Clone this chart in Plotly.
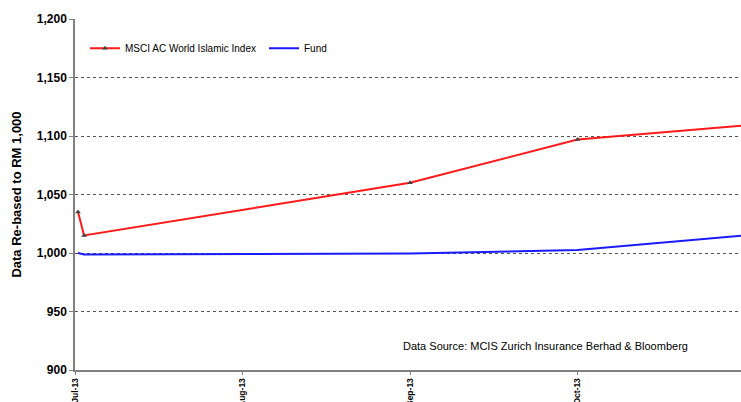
import plotly.graph_objects as go

# x positions in months since Jul-13 (0 = Jul-13, 1 = Aug-13, ...)
months = [0.018, 0.054, 2.0, 3.0, 4.0]
msci = [1035, 1015, 1060, 1097, 1109]
fund = [1000, 998.8, 999.5, 1002.5, 1015]
tick_pos = [0, 1, 2, 3, 4]
tick_labels = ["Jul-13", "Aug-13", "Sep-13", "Oct-13", "Nov-13"]
y_ticks = [900, 950, 1000, 1050, 1100, 1150, 1200]

FONT = "Liberation Sans, Arial, sans-serif"

fig = go.Figure()
fig.add_trace(go.Scatter(
    x=months, y=msci, name="MSCI AC World Islamic Index", mode="lines+markers",
    line=dict(color="#ff1a1a", width=2),
    marker=dict(symbol="triangle-up", size=5, color="#444444"),
))
fig.add_trace(go.Scatter(
    x=months, y=fund, name="Fund", mode="lines",
    line=dict(color="#1a1aff", width=2),
))

fig.update_layout(
    width=741, height=402,
    margin=dict(l=75, r=0, t=19, b=32),
    paper_bgcolor="white", plot_bgcolor="white",
    font=dict(family=FONT, color="black"),
    showlegend=True,
    legend=dict(orientation="h", x=0.015, y=0.917, xanchor="left", yanchor="middle",
                font=dict(size=10), bgcolor="rgba(0,0,0,0)",
                entrywidth=134, entrywidthmode="pixels", itemwidth=30,
                tracegroupgap=0),
    xaxis=dict(
        range=[0, 3.976], automargin=False,
        tickvals=tick_pos, ticktext=tick_labels, tickangle=-90,
        tickfont=dict(size=8.5, family=FONT, weight="bold"),
        showgrid=False, showline=True, linecolor="#808080", linewidth=1.5,
        ticks="outside", ticklen=3, tickcolor="#808080", zeroline=False,
    ),
    yaxis=dict(
        range=[900, 1200], tickvals=y_ticks, automargin=False,
        tickformat=",d",
        tickfont=dict(size=12, weight="bold"),
        title=dict(text="Data Re-based to RM 1,000", font=dict(size=13, weight="bold"), standoff=12),
        showgrid=True, gridcolor="#555555", griddash="dot", gridwidth=1,
        showline=True, linecolor="#808080", linewidth=1.5,
        ticks="outside", ticklen=4, tickcolor="#808080", zeroline=False,
    ),
    annotations=[dict(
        text="Data Source: MCIS Zurich Insurance Berhad & Bloomberg",
        xref="paper", yref="paper", x=0.49, y=0.068, xanchor="left", yanchor="middle",
        showarrow=False, font=dict(size=11, color="black"),
    )],
)

fig.write_html("out.html")
